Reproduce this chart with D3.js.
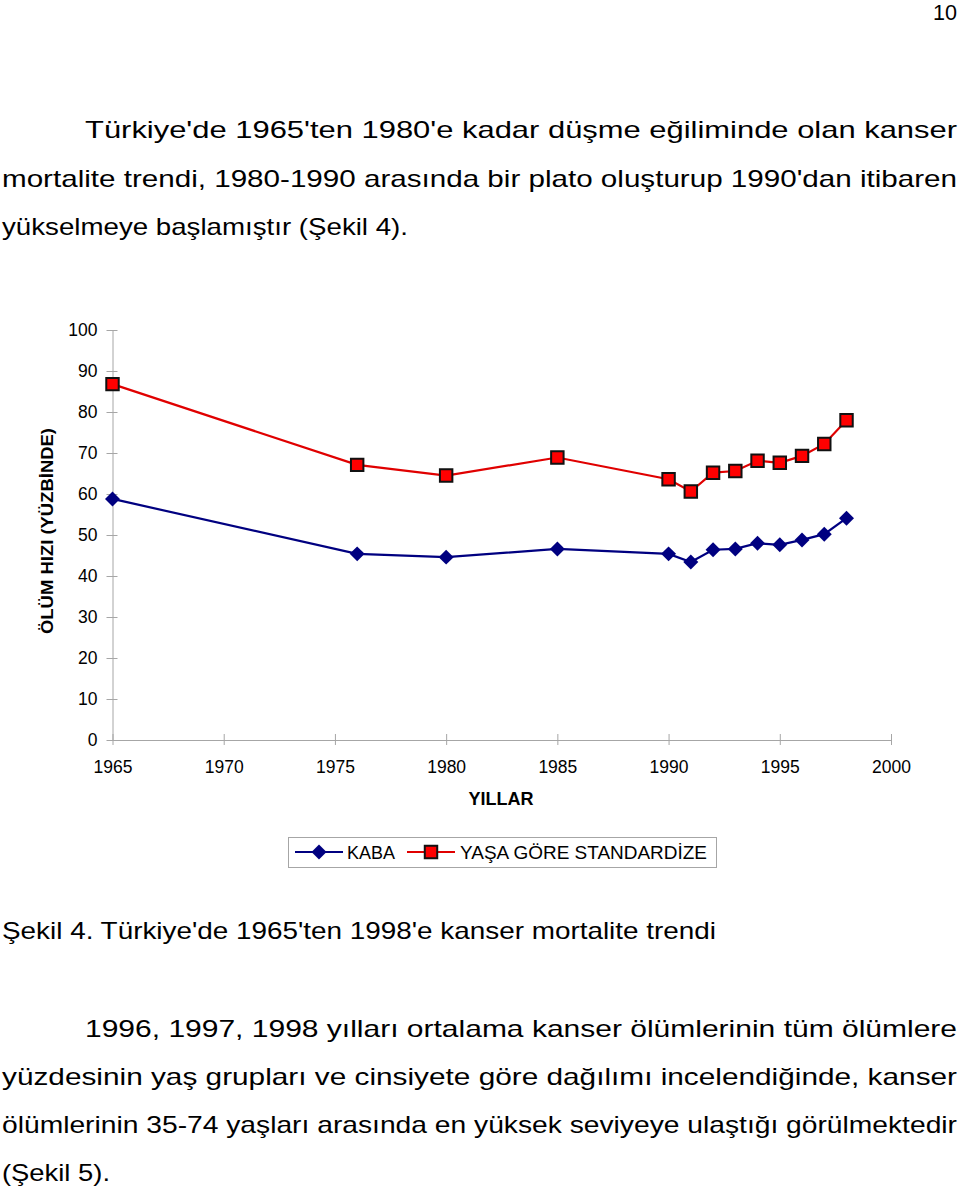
<!DOCTYPE html>
<html>
<head>
<meta charset="utf-8">
<script src="https://cdn.jsdelivr.net/npm/d3@7"></script>
<style>
  body { margin: 0; background: #fff; }
  svg text { font-family: "Liberation Sans", Arial, sans-serif; fill: #000; }
</style>
</head>
<body>
<div class="page"></div>
<script>
// data
var years = [1965, 1976, 1980, 1985, 1990, 1991, 1992, 1993, 1994, 1995, 1996, 1997, 1998];
var kaba = [58.8, 45.4, 44.6, 46.6, 45.4, 43.4, 46.4, 46.6, 48.0, 47.6, 48.8, 50.2, 54.1];
var standart = [86.8, 67.1, 64.5, 68.9, 63.6, 60.6, 65.2, 65.6, 68.1, 67.6, 69.3, 72.2, 78.0];
var xTicks = [1965, 1970, 1975, 1980, 1985, 1990, 1995, 2000];
var yTicks = [0, 10, 20, 30, 40, 50, 60, 70, 80, 90, 100];
var seriesNames = ["KABA", "YAŞA GÖRE STANDARDİZE"];

var width = 960, height = 1188;

var svg = d3.select(".page")
    .append("svg")
    .attr("width", width)
    .attr("height", height);

// page text
var lines = [
  {t: "10", x: 933, y: 20, w: 24, size: 22},
  {t: "Türkiye'de 1965'ten 1980'e kadar düşme eğiliminde olan kanser", x: 85, y: 138, w: 872},
  {t: "mortalite trendi, 1980-1990 arasında bir plato oluşturup 1990'dan itibaren", x: 2, y: 187, w: 955},
  {t: "yükselmeye başlamıştır (Şekil 4).", x: 2, y: 235, w: 406},
  {t: "Şekil 4. Türkiye'de 1965'ten 1998'e kanser mortalite trendi", x: 2, y: 939, w: 714},
  {t: "1996, 1997, 1998 yılları ortalama kanser ölümlerinin tüm ölümlere", x: 85, y: 1037, w: 872},
  {t: "yüzdesinin yaş grupları ve cinsiyete göre dağılımı incelendiğinde, kanser", x: 2, y: 1085, w: 955},
  {t: "ölümlerinin 35-74 yaşları arasında en yüksek seviyeye ulaştığı görülmektedir", x: 2, y: 1133, w: 955},
  {t: "(Şekil 5).", x: 2, y: 1181, w: 108}
];

svg.append("g").selectAll("text")
    .data(lines)
  .enter().append("text")
    .attr("x", function(d) { return d.x; })
    .attr("y", function(d) { return d.y; })
    .attr("font-size", function(d) { return d.size || 24; })
    .attr("textLength", function(d) { return d.w; })
    .attr("lengthAdjust", "spacingAndGlyphs")
    .text(function(d) { return d.t; });

// chart
var x = d3.scaleLinear().domain([1965, 2000]).range([112.5, 891]);
var y = d3.scaleLinear().domain([0, 100]).range([740, 330]);
var axisColor = "#a6a6a6";

var yAxis = svg.append("g")
    .attr("transform", "translate(" + x(1965) + ",0)")
    .call(d3.axisLeft(y).tickValues(yTicks).tickSize(5).tickSizeOuter(0));
yAxis.selectAll(".tick line").attr("x1", -6).attr("x2", 5);
yAxis.selectAll(".tick text").attr("x", -15).attr("font-size", 17.5);

var xAxis = svg.append("g")
    .attr("transform", "translate(0," + y(0) + ")")
    .call(d3.axisBottom(x).tickValues(xTicks).tickFormat(d3.format("d")).tickSize(5).tickSizeOuter(0));
xAxis.selectAll(".tick line").attr("y1", -6).attr("y2", 5);
xAxis.selectAll(".tick text").attr("y", 33).attr("dy", 0).attr("font-size", 17.5);

svg.selectAll(".domain, .tick line").attr("stroke", axisColor);
svg.selectAll(".tick text").attr("font-family", "Liberation Sans, Arial, sans-serif").attr("fill", "#000");

svg.append("text")
    .attr("transform", "translate(53,531) rotate(-90)")
    .attr("text-anchor", "middle")
    .attr("font-size", 17)
    .attr("font-weight", "bold")
    .attr("textLength", 206)
    .attr("lengthAdjust", "spacingAndGlyphs")
    .text("ÖLÜM HIZI (YÜZBİNDE)");

svg.append("text")
    .attr("x", 501).attr("y", 805)
    .attr("text-anchor", "middle")
    .attr("font-size", 18)
    .attr("font-weight", "bold")
    .text("YILLAR");

var line = d3.line()
    .x(function(d) { return x(d[0]); })
    .y(function(d) { return y(d[1]); });

var square = d3.symbol().type(d3.symbolSquare).size(155);
var diamond = d3.symbol().type(d3.symbolSquare).size(112);

function drawSeries(values, color, sym, rot, fill, stroke) {
  var pts = years.map(function(yr, i) { return [yr, values[i]]; });
  svg.append("path")
      .attr("d", line(pts))
      .attr("fill", "none")
      .attr("stroke", color)
      .attr("stroke-width", 2.2);
  svg.append("g").selectAll("path")
      .data(pts)
    .enter().append("path")
      .attr("transform", function(d) { return "translate(" + x(d[0]) + "," + y(d[1]) + ") rotate(" + rot + ")"; })
      .attr("d", sym)
      .attr("fill", fill)
      .attr("stroke", stroke)
      .attr("stroke-width", stroke == "none" ? 0 : 2);
}

drawSeries(kaba, "#000080", diamond, 45, "#000080", "none");
drawSeries(standart, "#e00000", square, 0, "#ff0000", "#111");

// legend
var legend = svg.append("g");
legend.append("rect")
    .attr("x", 288.5).attr("y", 837.5)
    .attr("width", 428).attr("height", 30)
    .attr("fill", "#fff").attr("stroke", axisColor);

var legendItems = [
  {name: seriesNames[0], x0: 295, color: "#000080", sym: diamond, rot: 45, fill: "#000080", stroke: "none", tx: 347, w: 48},
  {name: seriesNames[1], x0: 407, color: "#e00000", sym: square, rot: 0, fill: "#ff0000", stroke: "#111", tx: 460, w: 247}
];
legendItems.forEach(function(d) {
  legend.append("line")
      .attr("x1", d.x0).attr("x2", d.x0 + 48)
      .attr("y1", 852).attr("y2", 852)
      .attr("stroke", d.color).attr("stroke-width", 2.2);
  legend.append("path")
      .attr("transform", "translate(" + (d.x0 + 24) + ",852) rotate(" + d.rot + ")")
      .attr("d", d.sym)
      .attr("fill", d.fill)
      .attr("stroke", d.stroke)
      .attr("stroke-width", d.stroke == "none" ? 0 : 2);
  legend.append("text")
      .attr("x", d.tx).attr("y", 858.5)
      .attr("font-size", 17.5)
      .attr("textLength", d.w)
      .attr("lengthAdjust", "spacingAndGlyphs")
      .text(d.name);
});
</script>
</body>
</html>
